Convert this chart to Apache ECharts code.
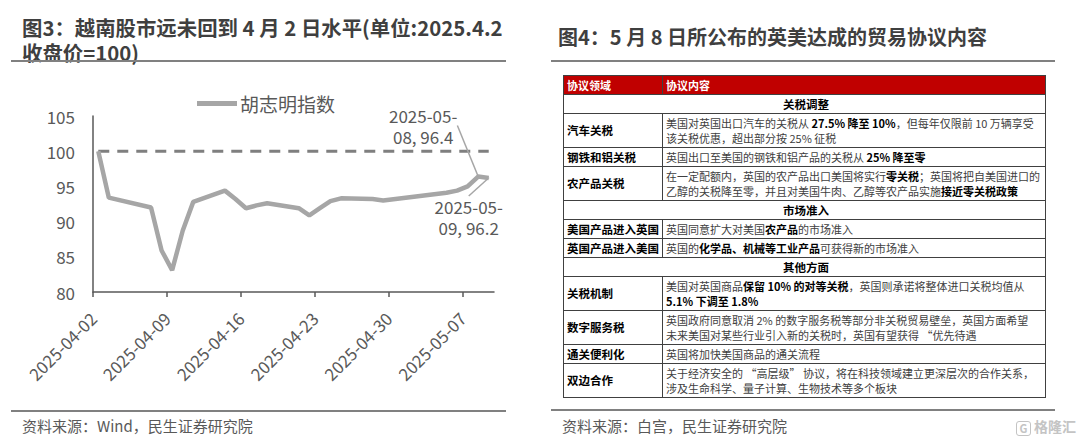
<!DOCTYPE html>
<html><head><meta charset="utf-8">
<script src="https://cdn.jsdelivr.net/npm/echarts@6/dist/echarts.min.js"></script>
<style>
html,body{margin:0;padding:0;width:1080px;height:440px;overflow:hidden;background:#fff;font-family:"Noto Sans CJK SC","Noto Sans",sans-serif;}
#chart{position:absolute;left:0;top:0;width:540px;height:440px;}
.title{position:absolute;font-weight:bold;font-size:20px;color:#3f3f3f;line-height:22px;white-space:nowrap;}
.rule{position:absolute;height:2px;background:#808080;}
.src{position:absolute;font-size:15px;color:#595959;line-height:18px;white-space:nowrap;}
.wm{position:absolute;font-size:14px;color:#c4c4c4;line-height:16px;white-space:nowrap;font-weight:bold;}
.wm span{display:inline-block;border:1.5px solid #c4c4c4;border-radius:3px;width:13px;height:13px;line-height:13px;text-align:center;font-size:11px;margin-right:3px;vertical-align:-1px;}
table{position:absolute;left:563px;top:75px;border-collapse:collapse;width:482px;table-layout:fixed;}
td{border:1px solid #404040;font-size:11px;padding:0 0 0 3px;white-space:nowrap;color:#404040;line-height:15px;overflow:hidden;vertical-align:middle;}
td b{color:#000;}
td.k{font-weight:bold;color:#000;font-size:11.5px;}
td.sec{font-weight:bold;color:#000;text-align:center;font-size:11.5px;}
tr.hd td{background:#c00000;color:#fff;font-weight:bold;border-color:#404040;}
tr.s{height:19px;}
tr.d{height:34px;}
</style>
</head><body>
<div id="chart"></div>
<div class="title" style="left:22px;top:16px;font-size:20.4px;">图3：越南股市远未回到 4 月 2 日水平(单位:2025.4.2</div>
<div class="title" style="left:22px;top:41px;font-size:20.4px;">收盘价=100)</div>
<div class="rule" style="left:11px;top:60px;width:495px;"></div>
<div class="rule" style="left:11px;top:410px;width:495px;"></div>
<div class="src" style="left:22px;top:417px;">资料来源：Wind，民生证券研究院</div>

<div class="title" style="left:558px;top:26px;">图4：5 月 8 日所公布的英美达成的贸易协议内容</div>
<div class="rule" style="left:551px;top:60px;width:504px;"></div>
<div class="rule" style="left:551px;top:409px;width:504px;"></div>
<div class="src" style="left:562px;top:417px;">资料来源：白宫，民生证券研究院</div>
<div class="wm" style="left:1016px;top:418px;"><span>G</span>格隆汇</div>

<table>
<colgroup><col style="width:99px"><col style="width:383px"></colgroup>
<tr class="s hd"><td>协议领域</td><td>协议内容</td></tr>
<tr class="s"><td class="sec" colspan="2">关税调整</td></tr>
<tr class="d"><td class="k">汽车关税</td><td>美国对英国出口汽车的关税从 <b>27.5% 降至 10%</b>，但每年仅限前 10 万辆享受<br>该关税优惠，超出部分按 25% 征税</td></tr>
<tr class="s"><td class="k">钢铁和铝关税</td><td>英国出口至美国的钢铁和铝产品的关税从 <b>25% 降至零</b></td></tr>
<tr class="d"><td class="k">农产品关税</td><td>在一定配额内，英国的农产品出口美国将实行<b>零关税</b>；英国将把自美国进口的<br>乙醇的关税降至零，并且对美国牛肉、乙醇等农产品实施<b>接近零关税政策</b></td></tr>
<tr class="s"><td class="sec" colspan="2">市场准入</td></tr>
<tr class="s"><td class="k">美国产品进入英国</td><td>英国同意扩大对美国<b>农产品</b>的市场准入</td></tr>
<tr class="s"><td class="k">英国产品进入美国</td><td>英国的<b>化学品、机械等工业产品</b>可获得新的市场准入</td></tr>
<tr class="s"><td class="sec" colspan="2">其他方面</td></tr>
<tr class="d"><td class="k">关税机制</td><td>美国对英国商品<b>保留 10% 的对等关税</b>，英国则承诺将整体进口关税均值从<br><b>5.1% 下调至 1.8%</b></td></tr>
<tr class="d"><td class="k">数字服务税</td><td>英国政府同意取消 2% 的数字服务税等部分非关税贸易壁垒，英国方面希望<br>未来美国对某些行业引入新的关税时，英国有望获得 “优先待遇</td></tr>
<tr class="s"><td class="k">通关便利化</td><td>英国将加快美国商品的通关流程</td></tr>
<tr class="d"><td class="k">双边合作</td><td>关于经济安全的 “高层级” 协议，将在科技领域建立更深层次的合作关系，<br>涉及生命科学、量子计算、生物技术等多个板块</td></tr>
</table>

<script>
// ---- data ----
const seriesName = '胡志明指数';
const dates = ['2025-04-02','2025-04-03','2025-04-07','2025-04-08','2025-04-09','2025-04-10','2025-04-11',
  '2025-04-14','2025-04-15','2025-04-16','2025-04-17','2025-04-18','2025-04-21','2025-04-22','2025-04-23',
  '2025-04-24','2025-04-25','2025-04-28','2025-04-29','2025-05-05','2025-05-06','2025-05-07','2025-05-08','2025-05-09'];
const values = [100,93.4,92.0,85.9,83.1,88.7,92.8,
  94.4,93.2,91.9,92.3,92.6,91.9,90.9,91.9,
  92.9,93.3,93.2,93.0,94.1,94.4,95.0,96.4,96.2];
const baselineValue = 100;
const xTickDates = ['2025-04-02','2025-04-09','2025-04-16','2025-04-23','2025-04-30','2025-05-07'];
const axisStartDate = '2025-04-02';
const axisEndDate = '2025-05-10';
const yMin = 80, yMax = 105, yStep = 5;
const annotatedDates = ['2025-05-08','2025-05-09'];

// ---- helpers ----
const DAY = 86400000;
const t0 = Date.parse(axisStartDate + 'T00:00:00Z');
const dayOf = d => (Date.parse(d + 'T00:00:00Z') - t0) / DAY;
const fromDay = n => new Date(t0 + n * DAY).toISOString().slice(0, 10);

const mainData = dates.map((d, i) => {
  const item = { value: [dayOf(d) + 0.5, values[i]] };
  if (annotatedDates.includes(d)) item.label = { show: true };
  return item;
});
const baseData = dates.map(d => [dayOf(d) + 0.5, baselineValue]);
const tickDays = xTickDates.map(dayOf);

const chart = echarts.init(document.getElementById('chart'), null, { renderer: 'svg' });
chart.setOption({
  animation: false,
  textStyle: { fontFamily: '"Noto Sans CJK SC","Noto Sans",sans-serif' },
  legend: {
    data: [seriesName], left: 192, top: 89, icon: 'rect', itemWidth: 40, itemHeight: 5, itemGap: 4,
    textStyle: { fontSize: 19, color: '#595959', padding: [0, 0, 0, -2] }
  },
  grid: { left: 93, top: 116, right: 46, bottom: 148, containLabel: false },
  xAxis: {
    type: 'value', min: 0, max: dayOf(axisEndDate), interval: 7,
    axisLine: { lineStyle: { color: '#595959', width: 1.5 } },
    axisTick: { show: true, length: 5, lineStyle: { color: '#595959', width: 1.5 }, customValues: tickDays },
    axisLabel: { rotate: 45, fontSize: 17, color: '#595959', margin: 23, customValues: tickDays, formatter: v => fromDay(v) },
    splitLine: { show: false }
  },
  yAxis: {
    type: 'value', min: yMin, max: yMax, interval: yStep,
    axisLine: { show: true, lineStyle: { color: '#595959', width: 1.5 } },
    axisTick: { show: false },
    axisLabel: { fontSize: 17, color: '#595959', margin: 18 },
    splitLine: { show: false }
  },
  series: [
    {
      name: 'baseline', type: 'line', data: baseData, symbol: 'none', silent: true,
      lineStyle: { color: '#7f7f7f', width: 3, type: [11, 8] }, z: 1
    },
    {
      name: seriesName, type: 'line', data: mainData, showSymbol: true, symbol: 'circle', symbolSize: 1,
      itemStyle: { color: '#a6a6a6' },
      lineStyle: { color: '#a6a6a6', width: 4.5 }, z: 2,
      label: {
        show: false, position: 'inside', fontSize: 17, color: '#595959', lineHeight: 21, align: 'center',
        formatter: p => { const d = dates[p.dataIndex]; return d.slice(0, 8) + '\n' + d.slice(8) + ', ' + values[p.dataIndex]; }
      },
      labelLine: { show: true, length2: 0, lineStyle: { color: '#a6a6a6', width: 1.5 } },
      labelLayout: p => {
        const d = dates[p.dataIndex];
        if (d === '2025-05-08') return { dx: -55, dy: -51 };
        if (d === '2025-05-09') return { dx: -20, dy: 39 };
        return {};
      }
    }
  ]
});
</script>
</body></html>
